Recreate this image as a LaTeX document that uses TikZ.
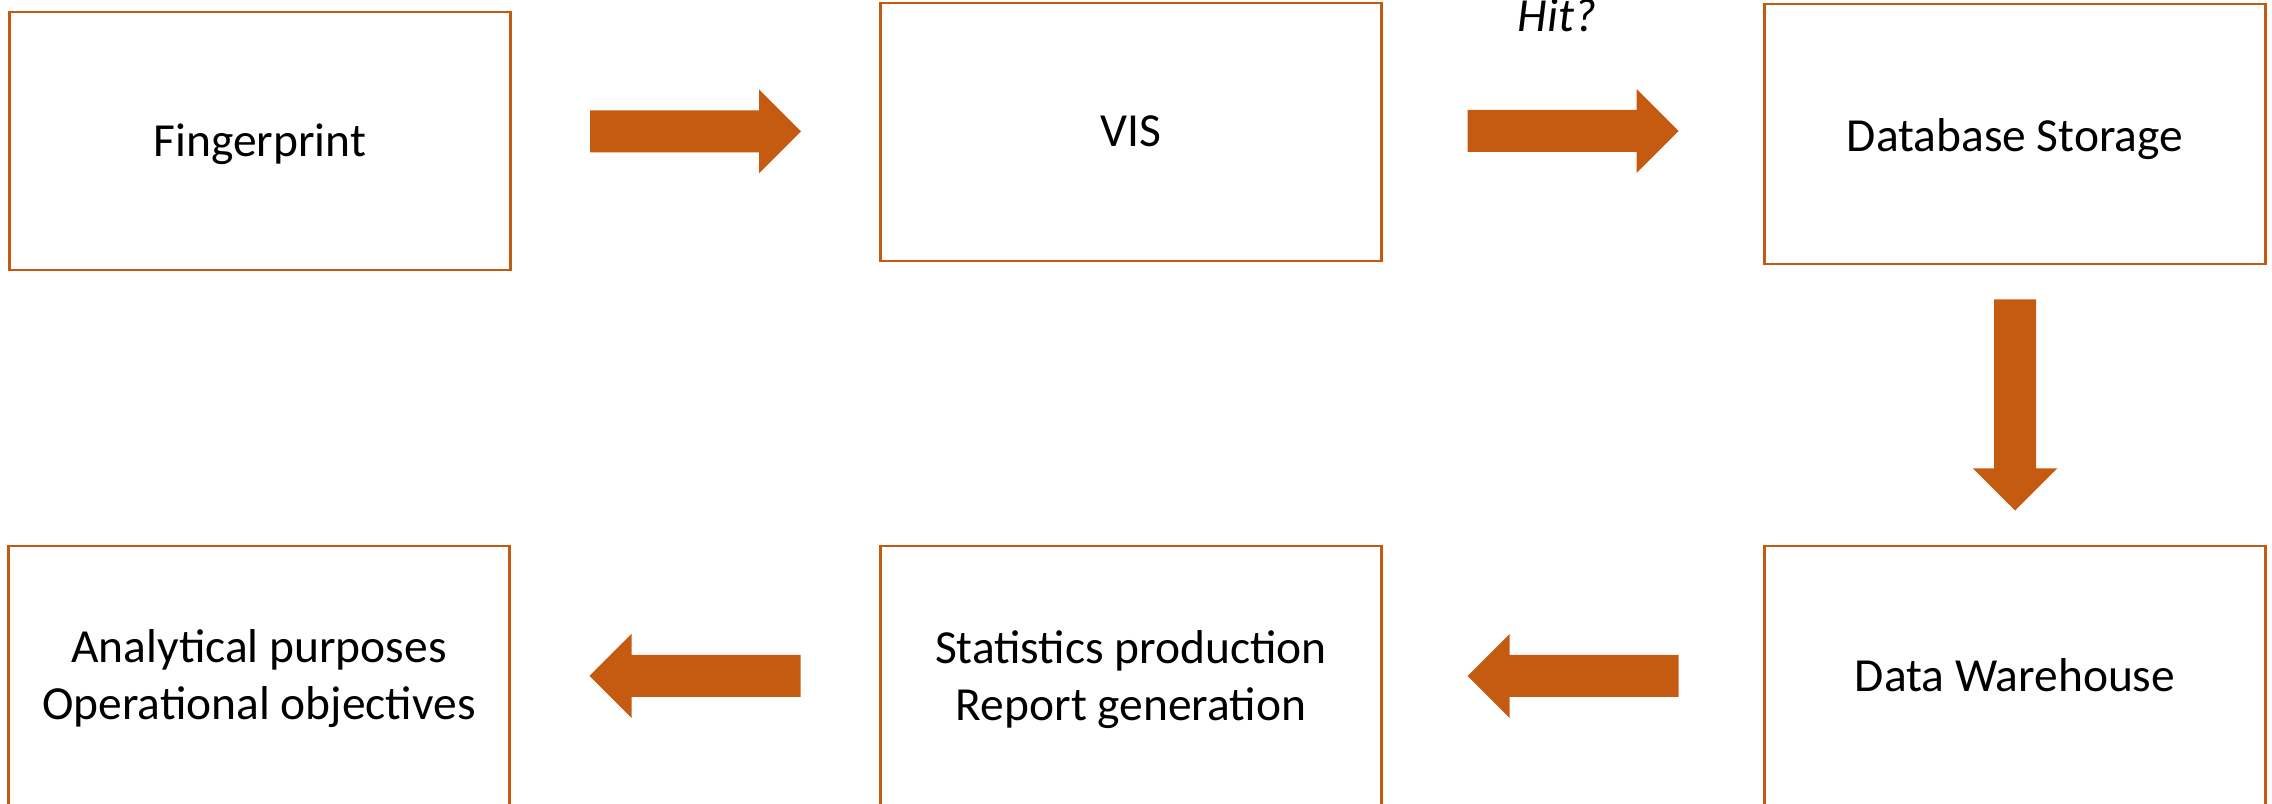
\documentclass[tikz,border=0pt]{standalone}
\usepackage{fontspec}
\setmainfont{Carlito}
\usetikzlibrary{calc}
\definecolor{burnt}{RGB}{197,90,17}
\tikzset{
  box/.style={draw=burnt, line width=0.8pt, rectangle, minimum width=5cm, inner sep=0pt},
  txt/.style={anchor=base, inner sep=0pt, font=\fontsize{13.5}{16.2}\selectfont},
  txttwo/.style={txt, text width=5cm, align=flush center},
  lbl/.style={txt, font=\fontsize{13.5}{16.2}\selectfont\itshape},
  blk/.pic={\fill[burnt] (-105.5,-21) -- (63.5,-21) -- (63.5,-42) -- (105.5,0) -- (63.5,42) -- (63.5,21) -- (-105.5,21) -- cycle;}
}
\begin{document}
\begin{tikzpicture}[x=0.01cm,y=-0.01cm]
\clip (0,0) rectangle (2272,804);
\fill[white] (0,0) rectangle (2272,804);
% top row
\node[box, minimum height=2.58cm] (fp) at (260,141) {};
\node[box, minimum height=2.58cm] (vis) at (1131,132) {};
\node[box, minimum height=2.60cm] (db) at (2015,134) {};
\node[txt] (fpt) at (fp.center |- 0,157) {Fingerprint};
\node[txt] (vist) at (vis.center |- 0,147) {VIS};
\node[txt] (dbt) at (db.center |- 0,152) {Database Storage};
% bottom row
\node[box, minimum height=2.62cm] (ana) at (259,677) {};
\node[box, minimum height=2.62cm] (stat) at (1131,677) {};
\node[box, minimum height=2.62cm] (dw) at (2015,677) {};
\node[txttwo] (anat) at (ana.center |- 0,663) {Analytical purposes\\Operational objectives};
\node[txttwo] (statt) at (stat.center |- 0,663.5) {Statistics production\\Report generation};
\node[txt] (dwt) at (dw.center |- 0,692) {Data Warehouse};
% arrows
\pic at ($(fp.east)!0.5!(vis.west) + (0,-5)$) {blk};
\pic at ($(vis.east)!0.5!(db.west) + (0,-2)$) {blk};
\pic[rotate=-90] at ($(db.south)!0.5!(dw.north)$) {blk};
\pic[rotate=180] at ($(dw.west)!0.5!(stat.east) + (0,-1)$) {blk};
\pic[rotate=180] at ($(stat.west)!0.5!(ana.east) + (0,-1)$) {blk};
\node[lbl] (hit) at (1557,32) {Hit?};
\end{tikzpicture}
\end{document}
